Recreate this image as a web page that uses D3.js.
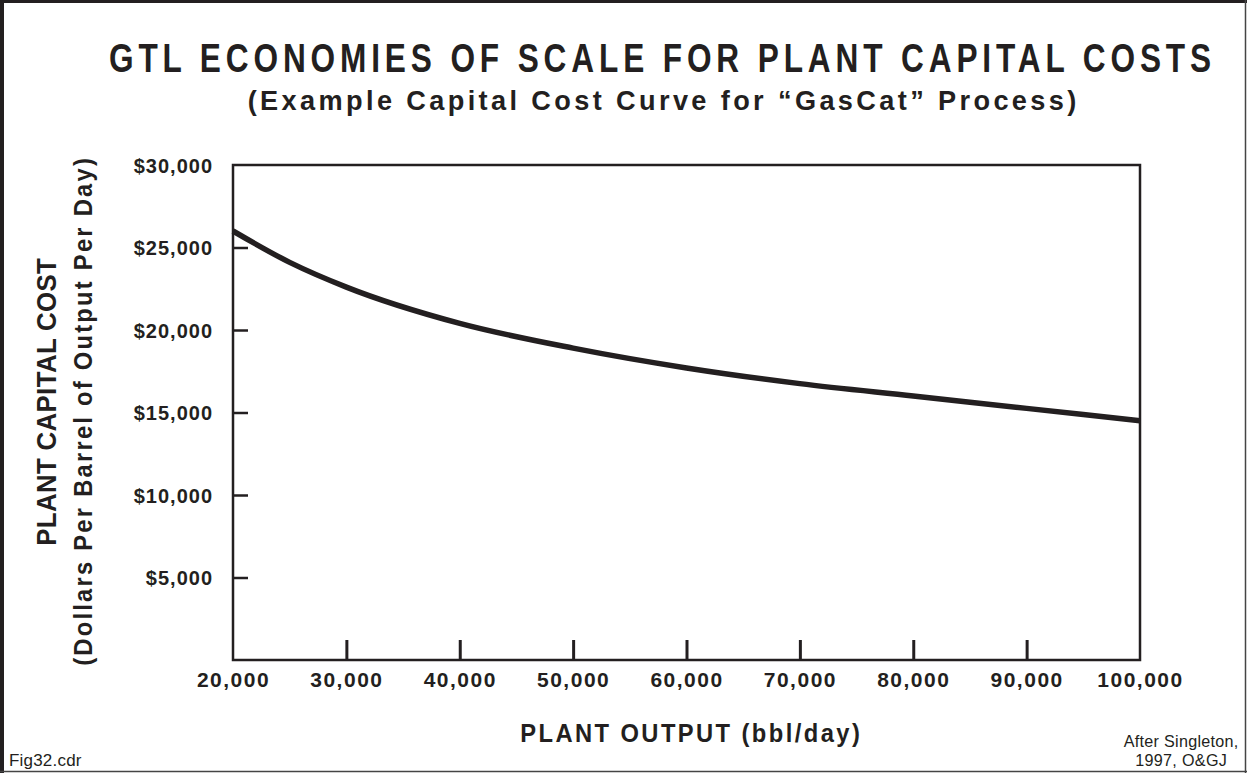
<!DOCTYPE html>
<html>
<head>
<meta charset="utf-8">
<script src="https://cdn.jsdelivr.net/npm/d3@7"></script>
<style>
  html, body { margin: 0; padding: 0; background: #fff; }
  svg { display: block; }
  text { font-family: "Liberation Sans", Arial, Helvetica, sans-serif; fill: #231f20; }
</style>
</head>
<body>
<svg id="chart" width="1247" height="773"></svg>
<script>
// ---- data ----
const plantOutput = [20000, 25000, 30000, 40000, 50000, 60000, 70000, 80000, 90000, 100000];
const capitalCost = [26000, 24100, 22600, 20400, 18900, 17700, 16750, 16000, 15250, 14500];
const xTickValues = [20000, 30000, 40000, 50000, 60000, 70000, 80000, 90000, 100000];
const yTickValues = [5000, 10000, 15000, 20000, 25000, 30000];
const titleText = "GTL ECONOMIES OF SCALE FOR PLANT CAPITAL COSTS";
const subtitleText = "(Example Capital Cost Curve for \u201CGasCat\u201D Process)";
const xLabelText = "PLANT OUTPUT (bbl/day)";
const yLabelLines = ["PLANT CAPITAL COST", "(Dollars Per Barrel of Output Per Day)"];

const ink = "#231f20";
const svg = d3.select("#chart");

// outer frame
svg.append("line").attr("x1", 2).attr("y1", 0).attr("x2", 2).attr("y2", 773).attr("stroke", ink).attr("stroke-width", 4);
svg.append("line").attr("x1", 0).attr("y1", 1.5).attr("x2", 1247).attr("y2", 1.5).attr("stroke", ink).attr("stroke-width", 3);
svg.append("line").attr("x1", 1245.5).attr("y1", 0).attr("x2", 1245.5).attr("y2", 773).attr("stroke", "#444").attr("stroke-width", 1.5);
svg.append("line").attr("x1", 0).attr("y1", 771.5).attr("x2", 1247).attr("y2", 771.5).attr("stroke", "#444").attr("stroke-width", 1.5);

const L = 233, R = 1140, T = 165, B = 660;
const x = d3.scaleLinear().domain([20000, 100000]).range([L, R]);
const y = d3.scaleLinear().domain([0, 30000]).range([B, T]);

// condensed + tracked text: glyphs scaled horizontally by sx, letter-spacing chosen to hit width
function tracked(parent, cx, cy, rot, txt, size, sx, width, weight) {
  const g = parent.append("g").attr("transform", `translate(${cx},${cy}) rotate(${rot}) scale(${sx},1)`);
  const t = g.append("text").attr("x", 0).attr("y", 0).attr("text-anchor", "middle")
    .attr("font-size", size).attr("font-weight", weight || "bold").text(txt);
  const w0 = t.node().getComputedTextLength();
  const n = txt.length;
  const ls = Math.max(0, (width / sx - w0) / n);
  t.attr("letter-spacing", ls).attr("x", ls / 2);
  return t;
}

// titles
tracked(svg, 660, 72, 0, titleText, 40, 0.79, 1107);
tracked(svg, 662, 110, 0, subtitleText, 28, 0.97, 832);

// x axis (ticks inward)
const xAxis = d3.axisBottom(x).tickValues(xTickValues).tickSize(-20).tickPadding(0)
  .tickFormat(d3.format(","));
const gx = svg.append("g").attr("transform", `translate(0,${B})`).call(xAxis);
gx.select(".domain").remove();
gx.selectAll(".tick line").attr("stroke", ink).attr("stroke-width", 3)
  .filter(d => d === 20000 || d === 100000).remove();
gx.selectAll(".tick text").attr("y", 27).attr("dy", 0).attr("font-size", 21).attr("font-weight", "bold")
  .attr("font-family", "'Liberation Sans', Arial, sans-serif").attr("fill", ink).attr("letter-spacing", 1.5);

// y axis (ticks inward)
const yAxis = d3.axisLeft(y).tickValues(yTickValues).tickSize(-15).tickPadding(0)
  .tickFormat(d => "$" + d3.format(",")(d));
const gy = svg.append("g").attr("transform", `translate(${L},0)`).call(yAxis);
gy.select(".domain").remove();
gy.selectAll(".tick line").attr("stroke", ink).attr("stroke-width", 2.5)
  .filter(d => d === 30000).remove();
gy.selectAll(".tick text").attr("x", -20).attr("dy", "0.36em").attr("font-size", 20).attr("font-weight", "bold")
  .attr("font-family", "'Liberation Sans', Arial, sans-serif").attr("fill", ink).attr("letter-spacing", 1);

// plot frame
svg.append("rect").attr("x", L).attr("y", T).attr("width", R - L).attr("height", B - T)
  .attr("fill", "none").attr("stroke", ink).attr("stroke-width", 2.5);

// curve
const pts = plantOutput.map((d, i) => [d, capitalCost[i]]);
const line = d3.line().x(d => x(d[0])).y(d => y(d[1])).curve(d3.curveMonotoneX);
svg.append("path").datum(pts).attr("d", line).attr("fill", "none")
  .attr("stroke", ink).attr("stroke-width", 5.5).attr("stroke-linecap", "butt");

// axis titles
tracked(svg, 690, 742, 0, xLabelText, 25, 0.95, 342);
tracked(svg, 56, 402, -90, yLabelLines[0], 28, 0.92, 288);
tracked(svg, 92, 412, -90, yLabelLines[1], 25, 0.95, 510);

// footnotes
svg.append("text").attr("x", 9).attr("y", 766).attr("font-size", 17).attr("letter-spacing", 0.2).text("Fig32.cdr");
tracked(svg, 1181, 747, 0, "After Singleton,", 17, 0.95, 115, "normal");
tracked(svg, 1181, 766, 0, "1997, O&GJ", 17, 0.95, 92, "normal");
</script>
</body>
</html>
